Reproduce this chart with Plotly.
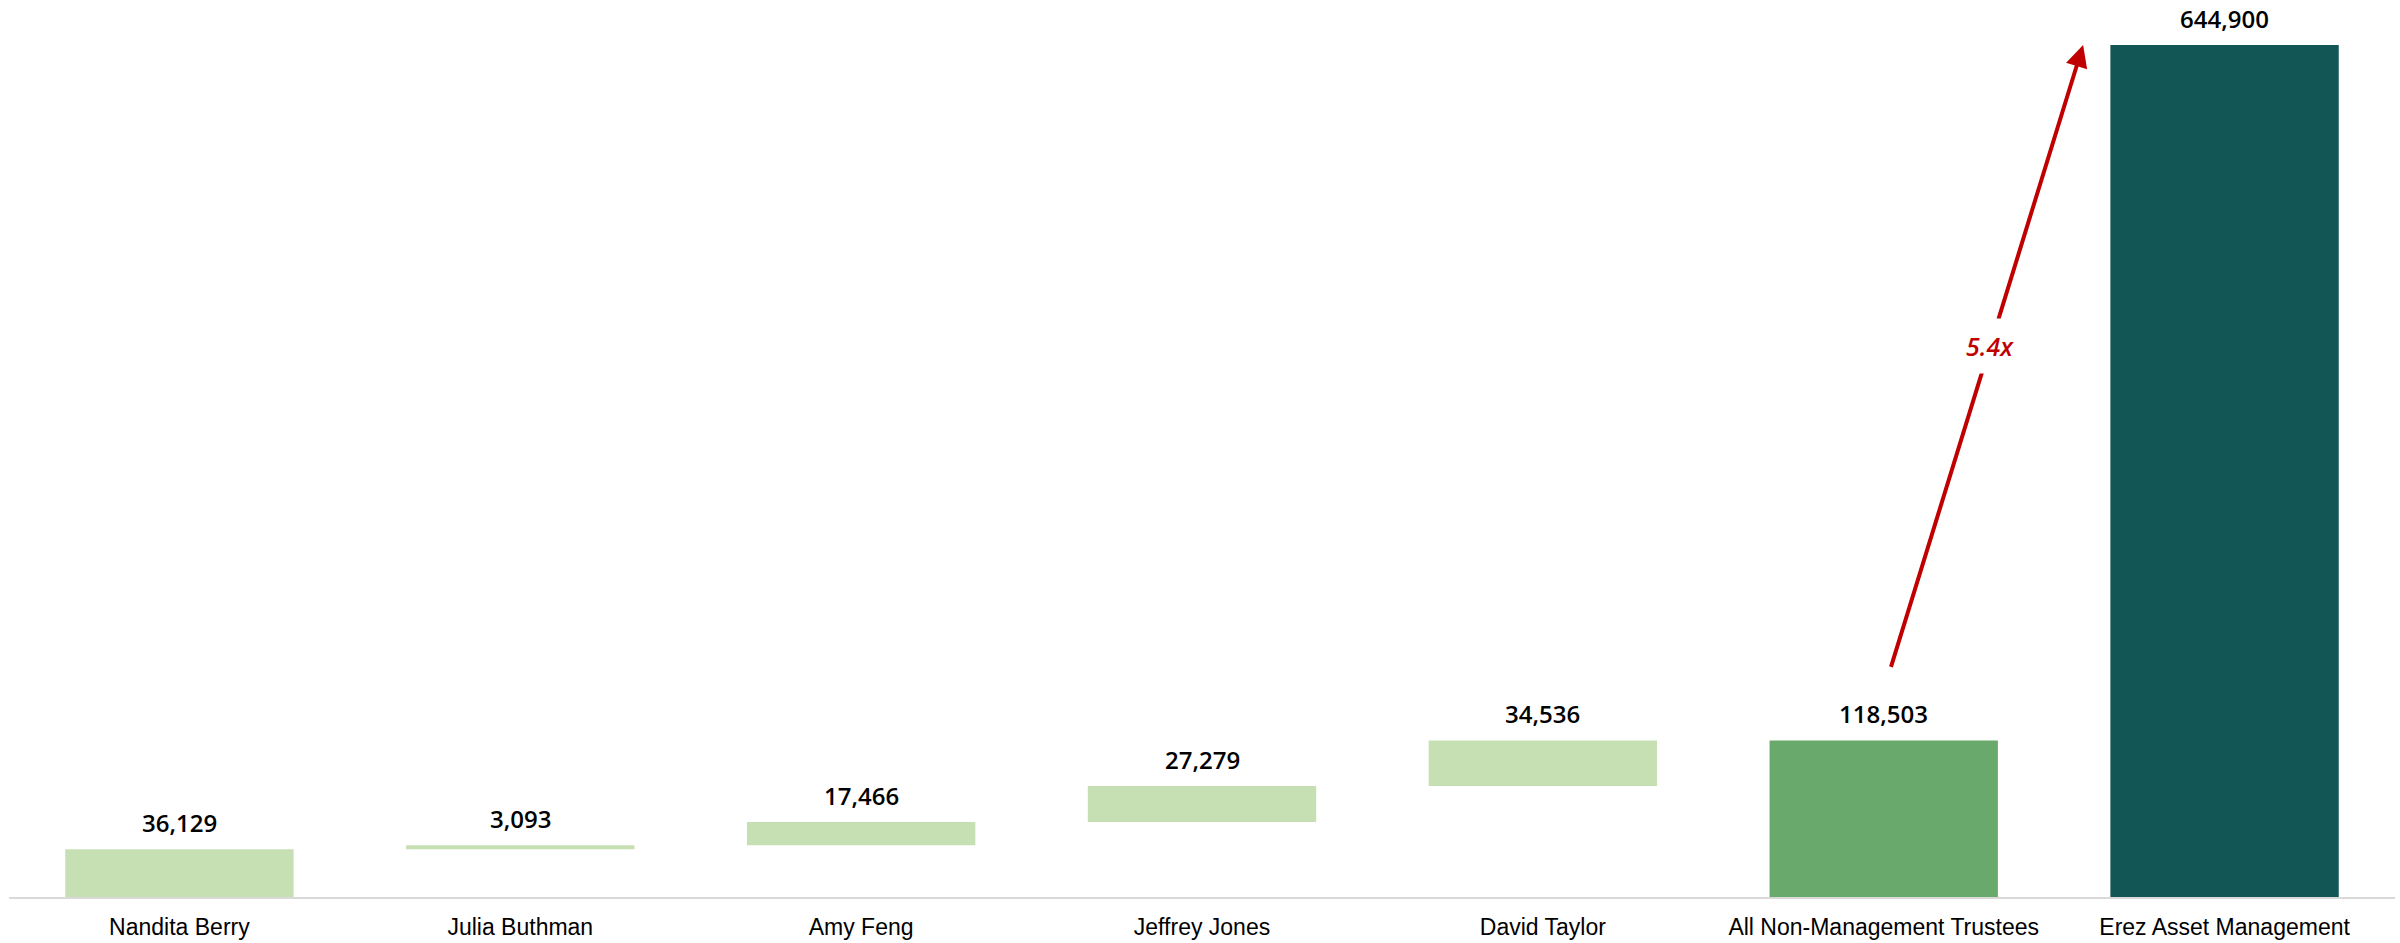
import numpy as np
import plotly.graph_objects as go

# Compensation by trustee, plus totals
categories = ["Nandita Berry", "Julia Buthman", "Amy Feng", "Jeffrey Jones",
              "David Taylor", "All Non-Management Trustees", "Erez Asset Management"]
trustee_values = [36129, 3093, 17466, 27279, 34536]
nm_total = 118503
erez_total = 644900

values = trustee_values + [nm_total, erez_total]
# floating bases for the trustee steps, totals start at zero
bases = list(np.concatenate([[0], np.cumsum(trustee_values)[:-1]])) + [0, 0]
tops = [b + v for b, v in zip(bases, values)]

LIGHT = "#C6E0B4"
MID = "#69A96B"
DARK = "#135656"
colors = [LIGHT] * 5 + [MID, DARK]
RED = "#C00000"
VALUE_FONT = "Open Sans, Liberation Sans, Arial, sans-serif"

fig = go.Figure()
fig.add_trace(go.Bar(
    x=categories, y=values, base=bases,
    marker=dict(color=colors, line=dict(width=0)),
    hoverinfo="skip",
))

for cat, top, val in zip(categories, tops, values):
    fig.add_annotation(
        x=cat, y=top, text=f"{val:,}", showarrow=False,
        yanchor="bottom", yshift=8,
        font=dict(family=VALUE_FONT, size=24, color="#000000", weight=600),
    )

# multiple arrow from the trustee total to the Erez bar
tail_x, tail_y = 5.02, nm_total * 1.46
tip_x, tip_y = 5.585, erez_total
fig.add_annotation(
    x=tip_x, y=tip_y, ax=tail_x, ay=tail_y,
    xref="x", yref="y", axref="x", ayref="y",
    showarrow=True, arrowhead=2, arrowsize=1.1, arrowwidth=4, arrowcolor=RED,
    text="",
)
ratio = erez_total / nm_total
lab_y = 417000
lab_x = tail_x + (tip_x - tail_x) * (lab_y - tail_y) / (tip_y - tail_y)
fig.add_annotation(
    x=lab_x, y=lab_y, text=f"<i>{ratio:.1f}x</i>", showarrow=False,
    bgcolor="#FFFFFF", borderpad=10,
    font=dict(family=VALUE_FONT, size=25, color=RED, weight=600),
)

fig.update_layout(
    width=2400, height=943,
    margin=dict(l=9, r=5, t=0, b=46),
    plot_bgcolor="#FFFFFF", paper_bgcolor="#FFFFFF",
    bargap=0.33, showlegend=False,
    xaxis=dict(
        type="category", range=[-0.5, 6.5],
        showgrid=False, zeroline=False,
        showline=True, linecolor="#D9D9D9", linewidth=2,
        ticks="", ticklen=0, ticklabelstandoff=8,
        tickfont=dict(family="Liberation Sans, Arial, sans-serif",
                      size=23, color="#000000"),
    ),
    yaxis=dict(range=[0, 679000], visible=False, showgrid=False, zeroline=False),
)

fig.write_html("out.html")
